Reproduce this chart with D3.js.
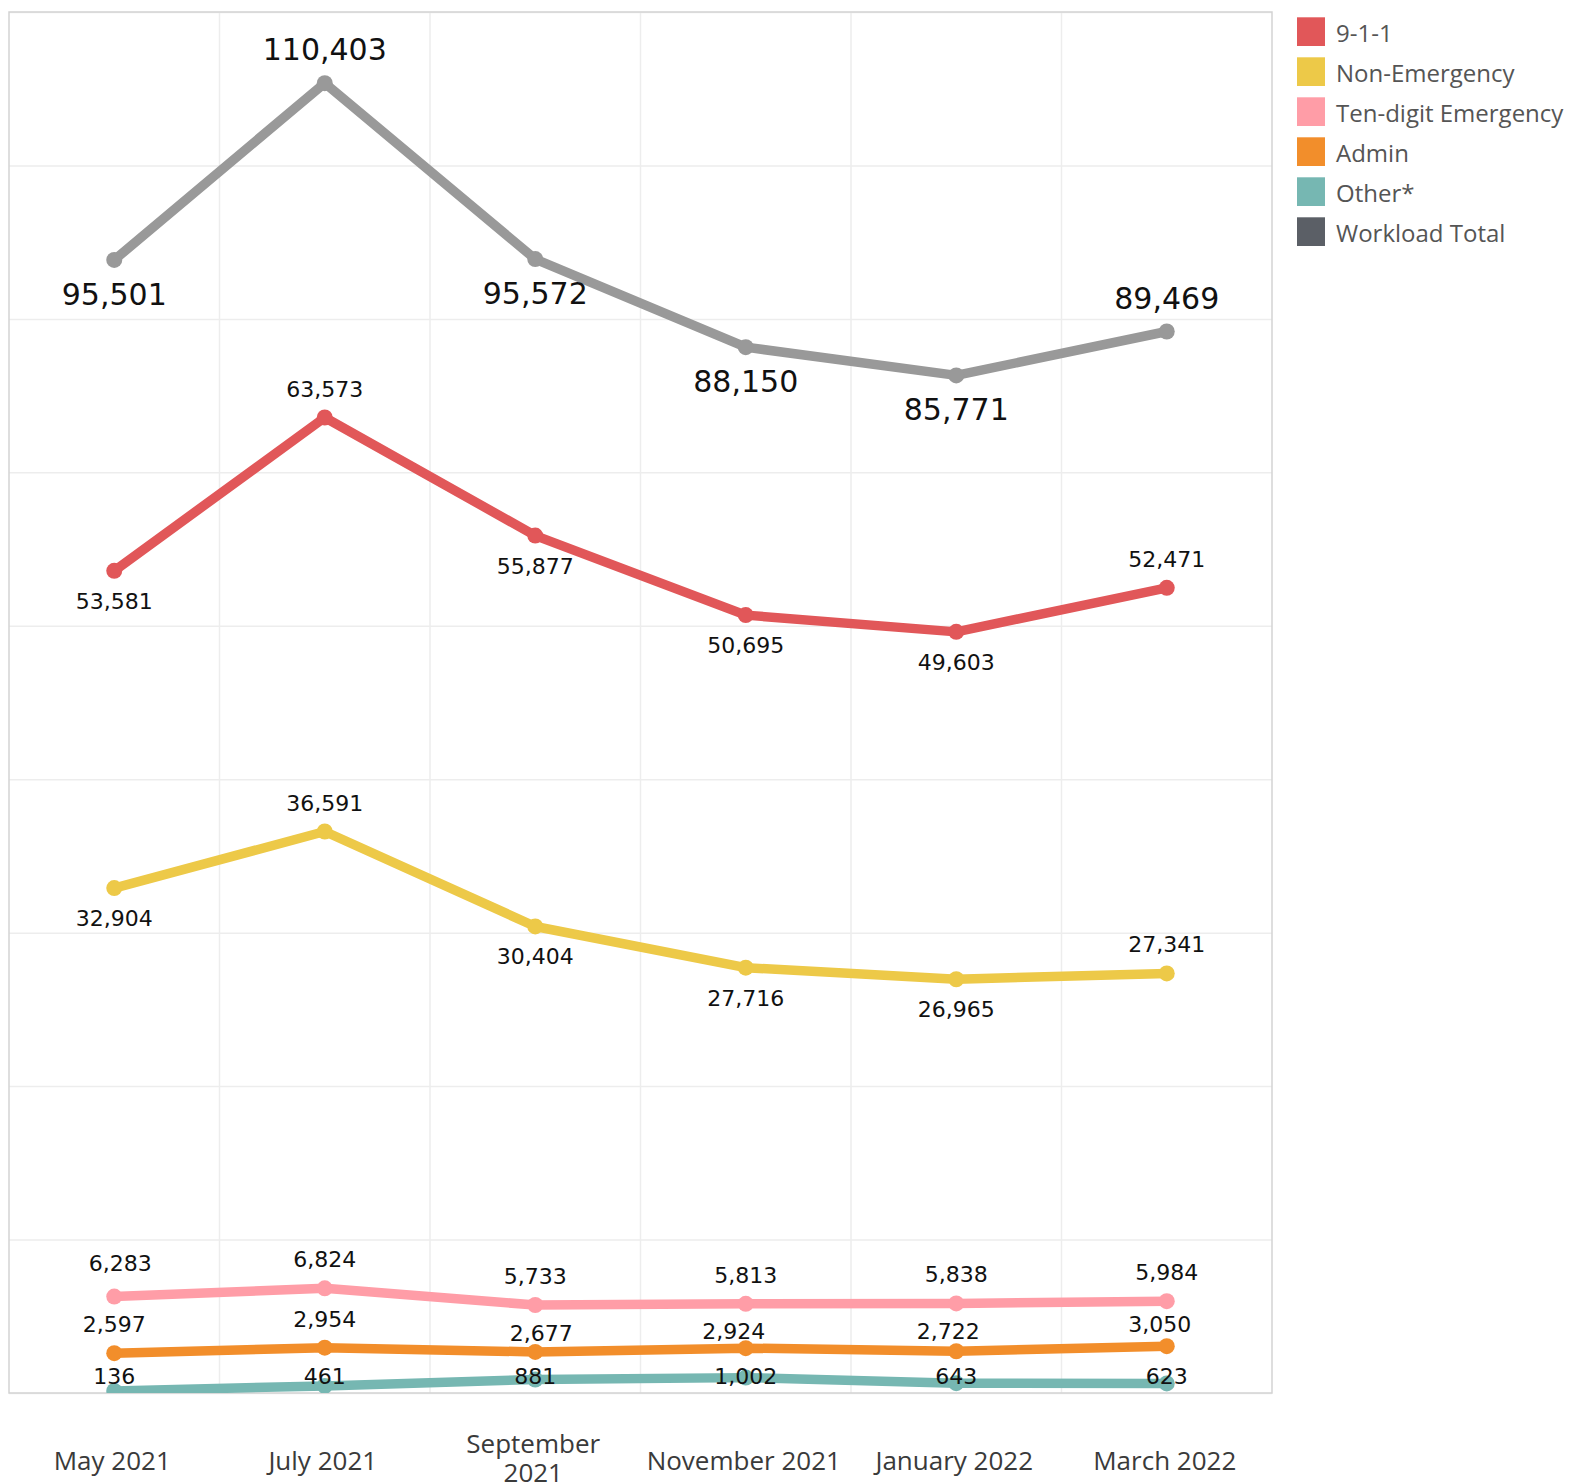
<!DOCTYPE html>
<html>
<head>
<meta charset="utf-8">
<script src="https://cdn.jsdelivr.net/npm/d3@7"></script>
<style>
  html, body { margin: 0; padding: 0; background: #fff; }
  svg { display: block; }
</style>
</head>
<body>
<svg id="chart" width="1593" height="1483"></svg>
<script>
// ---------- data ----------
const months = ["May 2021", "July 2021", "September 2021", "November 2021", "January 2022", "March 2022"];
const calls911 = [53581, 63573, 55877, 50695, 49603, 52471];
const nonEmergency = [32904, 36591, 30404, 27716, 26965, 27341];
const tenDigitEmergency = [6283, 6824, 5733, 5813, 5838, 5984];
const admin = [2597, 2954, 2677, 2924, 2722, 3050];
const other = [136, 461, 881, 1002, 643, 623];
const workloadTotal = [95501, 110403, 95572, 88150, 85771, 89469];
const seriesNames = ["9-1-1", "Non-Emergency", "Ten-digit Emergency", "Admin", "Other*", "Workload Total"];
const gridTicks = [0, 10000, 20000, 30000, 40000, 50000, 60000, 70000, 80000, 90000];

// ---------- layout / styles ----------
const L = 9, R = 1272, T = 12, B = 1393;
const colors = {
  "9-1-1": "#E15759",
  "Non-Emergency": "#EDC948",
  "Ten-digit Emergency": "#FF9DA7",
  "Admin": "#F28E2B",
  "Other*": "#76B7B2",
  "Workload Total": "#999999"
};
const legendColors = Object.assign({}, colors, {"Workload Total": "#5B5F66"});

const svg = d3.select("#chart");

const x = d3.scaleBand().domain(months).range([L, R]).padding(0);
const y = d3.scaleLinear().domain([0, 90000]).range([B, T]);
const yTotal = d3.scaleLinear().domain([0, 116400]).range([B, T]);
const cx = m => x(m) + x.bandwidth() / 2;

// clip
svg.append("defs").append("clipPath").attr("id", "plotclip")
  .append("rect").attr("x", L).attr("y", T).attr("width", R - L).attr("height", B - T);

// horizontal grid via axis
const gy = svg.append("g").attr("transform", `translate(${L},0)`)
  .call(d3.axisLeft(y).tickValues(gridTicks).tickSize(-(R - L)).tickFormat(""));
gy.select(".domain").remove();
gy.selectAll(".tick line").attr("stroke", "#ededed").attr("stroke-width", 1.5);

// vertical grid at band boundaries
svg.append("g").selectAll("line").data(months.slice(1)).join("line")
  .attr("x1", d => x(d)).attr("x2", d => x(d))
  .attr("y1", T).attr("y2", B)
  .attr("stroke", "#ededed").attr("stroke-width", 1.5);

// border
svg.append("rect").attr("x", L).attr("y", T).attr("width", R - L).attr("height", B - T)
  .attr("fill", "none").attr("stroke", "#d3d3d3").attr("stroke-width", 1.5);

const series = [
  {name: "9-1-1", values: calls911, scale: y, big: false},
  {name: "Non-Emergency", values: nonEmergency, scale: y, big: false},
  {name: "Ten-digit Emergency", values: tenDigitEmergency, scale: y, big: false, alwaysAbove: true},
  {name: "Admin", values: admin, scale: y, big: false, alwaysAbove: true},
  {name: "Other*", values: other, scale: y, big: false, bottomRow: true},
  {name: "Workload Total", values: workloadTotal, scale: yTotal, big: true}
];

// label nudges (Tableau collision placement)
const nudges = {
  "Ten-digit Emergency": [[6, -5], [0, 0], [0, 0], [0, 0], [0, 0], [0, 0]],
  "Admin": [[0, 0], [0, 0], [6, 10], [-12, 12], [-8, 9], [-7, 7]]
};

const plot = svg.append("g").attr("clip-path", "url(#plotclip)");
const labelsG = svg.append("g");
const fmt = d3.format(",");

const drawOrder = ["Other*", "Admin", "Ten-digit Emergency", "Non-Emergency", "9-1-1", "Workload Total"];
drawOrder.forEach(name => {
  const s = series.find(d => d.name === name);
  const pts = months.map((m, i) => ({m, v: s.values[i], i}));
  const line = d3.line().x(d => cx(d.m)).y(d => s.scale(d.v));
  plot.append("path").datum(pts)
    .attr("d", line)
    .attr("fill", "none")
    .attr("stroke", colors[name])
    .attr("stroke-width", 9.5)
    .attr("stroke-linejoin", "round");
  plot.append("g").selectAll("circle").data(pts).join("circle")
    .attr("cx", d => cx(d.m)).attr("cy", d => s.scale(d.v))
    .attr("r", 8).attr("fill", colors[name]);
});

series.forEach(s => {
  const vals = s.values;
  labelsG.append("g").selectAll("text").data(vals.map((v, i) => ({v, i}))).join("text")
    .attr("x", d => cx(months[d.i]) + (nudges[s.name] ? nudges[s.name][d.i][0] : 0))
    .attr("y", d => {
      const py = s.scale(d.v);
      const nd = nudges[s.name] ? nudges[s.name][d.i][1] : 0;
      if (s.bottomRow) return B - 9.5;
      let above;
      if (s.alwaysAbove) above = true;
      else {
        const prev = d.i > 0 ? vals[d.i - 1] : -Infinity;
        const next = d.i < vals.length - 1 ? vals[d.i + 1] : -Infinity;
        above = d.v > prev && d.v > next;
      }
      if (s.big) return above ? py - 23 : py + 45;
      return (above ? py - 21 : py + 38) + nd;
    })
    .attr("text-anchor", "middle")
    .attr("font-family", "'DejaVu Sans', sans-serif")
    .attr("font-size", s.big ? 30 : 22)
    .attr("fill", "#111")
    .text(d => fmt(d.v));
});

// x axis labels
const gx = svg.append("g").attr("transform", `translate(0,${B})`)
  .call(d3.axisBottom(x).tickSize(0).tickPadding(0));
gx.select(".domain").remove();
gx.selectAll(".tick text")
  .attr("font-family", "'Open Sans', sans-serif")
  .attr("font-size", 26)
  .attr("fill", "#3a3a3a")
  .attr("dy", null)
  .attr("y", 0)
  .each(function(d) {
    const t = d3.select(this);
    t.text(null);
    t.append("tspan").attr("x", -2).attr("y", 77).text(d);
    const w = this.getComputedTextLength();
    if (w > 197) {
      const parts = d.split(" ");
      t.text(null);
      t.append("tspan").attr("x", -2).attr("y", 60).text(parts.slice(0, -1).join(" "));
      t.append("tspan").attr("x", -2).attr("y", 89).text(parts[parts.length - 1]);
    }
  });

// legend
const lg = svg.append("g");
const rows = lg.selectAll("g").data(seriesNames).join("g")
  .attr("transform", (d, i) => `translate(1297,${17.3 + i * 40})`);
rows.append("rect").attr("width", 28).attr("height", 28.7).attr("fill", d => legendColors[d]);
rows.append("text").attr("x", 39).attr("y", 24.5)
  .attr("font-family", "'Open Sans', sans-serif").attr("font-size", 24)
  .attr("fill", "#555").text(d => d);
</script>
</body>
</html>
